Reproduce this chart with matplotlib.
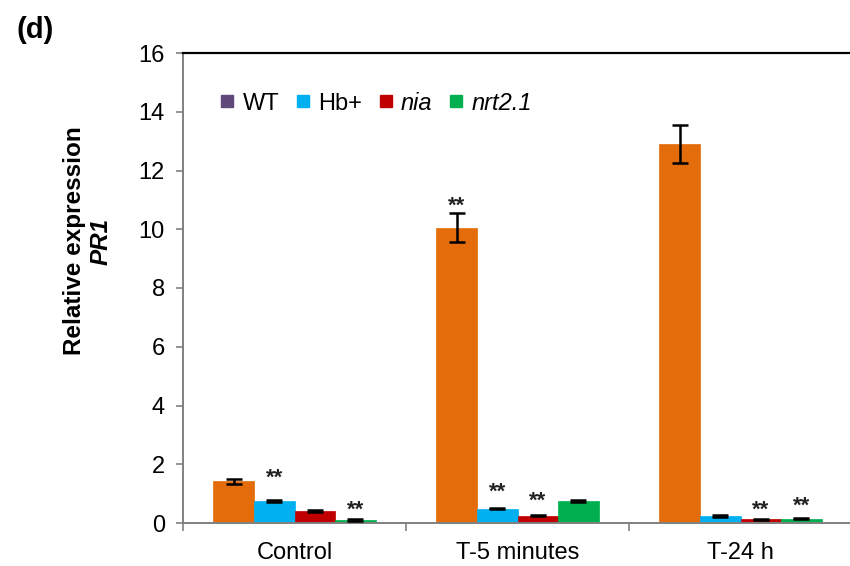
import matplotlib
matplotlib.use("Agg")
import matplotlib.pyplot as plt
from matplotlib.lines import Line2D
import numpy as np

plt.rcParams['font.family'] = ['Liberation Sans', 'DejaVu Sans']

categories = ["Control", "T-5 minutes", "T-24 h"]
series = ["WT", "Hb+", "nia", "nrt2.1"]
values = {
    "WT":     [1.42, 10.05, 12.91],
    "Hb+":    [0.75, 0.49, 0.24],
    "nia":    [0.41, 0.25, 0.12],
    "nrt2.1": [0.10, 0.75, 0.14],
}
errors = {
    "WT":     [0.08, 0.50, 0.65],
    "Hb+":    [0.04, 0.03, 0.02],
    "nia":    [0.02, 0.02, 0.02],
    "nrt2.1": [0.02, 0.04, 0.02],
}
# significance marks: (series, category index, y position of "**")
stars = [("Hb+", 0, 1.53), ("nrt2.1", 0, 0.42), ("WT", 1, 10.79),
         ("Hb+", 1, 1.06), ("nia", 1, 0.75), ("nia", 2, 0.42), ("nrt2.1", 2, 0.56)]
yticks = [0, 2, 4, 6, 8, 10, 12, 14, 16]

bar_colors = ["#E46C0A", "#00B0F0", "#C00000", "#00B050"]
legend_colors = ["#604A7B", "#00B0F0", "#C00000", "#00B050"]
legend_styles = ["normal", "normal", "italic", "italic"]

W, H = 850, 566
fig = plt.figure(figsize=(W / 100, H / 100), dpi=100)
ax = fig.add_axes([183 / W, (H - 523) / H, 669 / W, 470 / H])

n = len(series)
group_w = 0.727
bw = group_w / n
x = np.arange(len(categories))
for i, s in enumerate(series):
    pos = x - group_w / 2 + bw * (i + 0.5)
    ax.bar(pos, values[s], width=bw, color=bar_colors[i], edgecolor=bar_colors[i], linewidth=0.5, zorder=2)
    ax.errorbar(pos, values[s], yerr=errors[s], fmt="none", ecolor="black",
                elinewidth=1.8, capsize=5.5, capthick=1.8, zorder=3)

for s, ci, yv in stars:
    i = series.index(s)
    pos = ci - group_w / 2 + bw * (i + 0.5)
    ax.text(pos, yv, "**", ha="center", va="center", fontsize=16, fontweight="bold",
            color="#222222", zorder=4)

ax.set_xlim(-0.5, len(categories) - 0.5)
ax.set_ylim(0, 16)
ax.set_yticks(yticks)
ax.set_yticklabels([str(t) for t in yticks])
ax.set_xticks(x)
ax.set_xticklabels(categories)
ax.set_xticks(np.arange(len(categories) + 1) - 0.5, minor=True)
ax.tick_params(axis="x", which="major", length=0, pad=14, labelsize=17)
ax.tick_params(axis="x", which="minor", length=6, width=1.2, color="#808080", direction="out")
ax.tick_params(axis="y", length=5, width=1.2, color="#808080", direction="out", pad=8, labelsize=17)

ax.spines["right"].set_visible(False)
ax.spines["top"].set_color("black")
ax.spines["top"].set_linewidth(1.6)
for sp in ["left", "bottom"]:
    ax.spines[sp].set_color("#808080")
    ax.spines[sp].set_linewidth(1.4)

handles = [Line2D([0], [0], marker="s", linestyle="none", markersize=9,
                  markerfacecolor=c, markeredgecolor=c) for c in legend_colors]
leg = ax.legend(handles, series, ncol=4, frameon=False, fontsize=17,
                loc="center left", bbox_to_anchor=(219 / W, (H - 103) / H),
                bbox_transform=fig.transFigure, handlelength=0.7, handletextpad=0.3,
                columnspacing=0.65, borderaxespad=0, borderpad=0)
for t, st in zip(leg.get_texts(), legend_styles):
    t.set_style(st)

fig.text(74 / W, 1 - 241 / H, "Relative expression", rotation=90, ha="center", va="center",
         fontsize=17.5, fontweight="bold")
fig.text(101 / W, 1 - 241 / H, "PR1", rotation=90, ha="center", va="center",
         fontsize=17.5, fontweight="bold", fontstyle="italic")
fig.text(16 / W, 1 - 30 / H, "(d)", ha="left", va="center", fontsize=21, fontweight="bold")

fig.savefig("out.png", dpi=100)
